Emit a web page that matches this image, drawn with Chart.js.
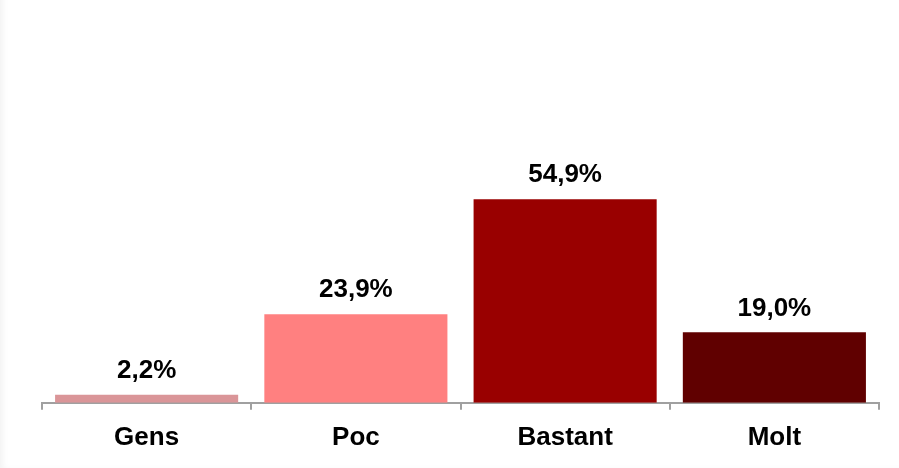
<!DOCTYPE html>
<html>
<head>
<meta charset="utf-8">
<script src="https://cdn.jsdelivr.net/npm/chart.js@4/dist/chart.umd.min.js"></script>
<style>
  html, body { margin: 0; padding: 0; background: #fff; }
  #wrap { width: 899px; height: 468px; position: relative; box-shadow: inset 8px -3px 6px -5px rgba(0,0,0,0.05); }
</style>
</head>
<body>
<div id="wrap"><canvas id="myChart" width="899" height="468"></canvas></div>
<script>
  var categories = ['Gens', 'Poc', 'Bastant', 'Molt'];
  var values = [2.2, 23.9, 54.9, 19.0];
  var barColors = ['#DA9598', '#FF8080', '#990000', '#600000'];

  // values above bars, with a decimal comma
  const valueLabels = {
    id: 'valueLabels',
    afterDatasetsDraw(chart) {
      const ctx = chart.ctx;
      const meta = chart.getDatasetMeta(0);
      ctx.save();
      ctx.font = 'bold 26px "Liberation Sans", Arial, sans-serif';
      ctx.fillStyle = '#000';
      ctx.textAlign = 'center';
      ctx.textBaseline = 'middle';
      meta.data.forEach((bar, i) => {
        const txt = values[i].toFixed(1).replace('.', ',') + '%';
        ctx.fillText(txt, bar.x, bar.y - 24);
      });
      ctx.restore();
    }
  };

  const data = {
    labels: categories,
    datasets: [
      {
        data: values,
        backgroundColor: barColors,
        borderWidth: 0,
        categoryPercentage: 1,
        barPercentage: 0.875
      }
    ]
  };

  const config = {
    type: 'bar',
    data: data,
    options: {
      responsive: false,
      animation: false,
      layout: {
        padding: { top: 32, left: 42, right: 20, bottom: 3 }
      },
      plugins: {
        legend: { display: false },
        tooltip: { enabled: false }
      },
      scales: {
        x: {
          offset: true,
          grid: {
            display: true,
            drawOnChartArea: false,
            drawTicks: true,
            tickLength: 7,
            color: '#A0A0A0',
            lineWidth: 2,
            offset: true
          },
          border: { display: true, color: '#A0A0A0', width: 2 },
          ticks: {
            color: '#000',
            padding: 12,
            font: { family: '"Liberation Sans", Arial, sans-serif', size: 26, weight: 'bold', lineHeight: 1.2 }
          }
        },
        y: {
          display: false,
          min: 0,
          max: 100
        }
      }
    },
    plugins: [valueLabels]
  };

  new Chart(document.getElementById('myChart'), config);
</script>
</body>
</html>
